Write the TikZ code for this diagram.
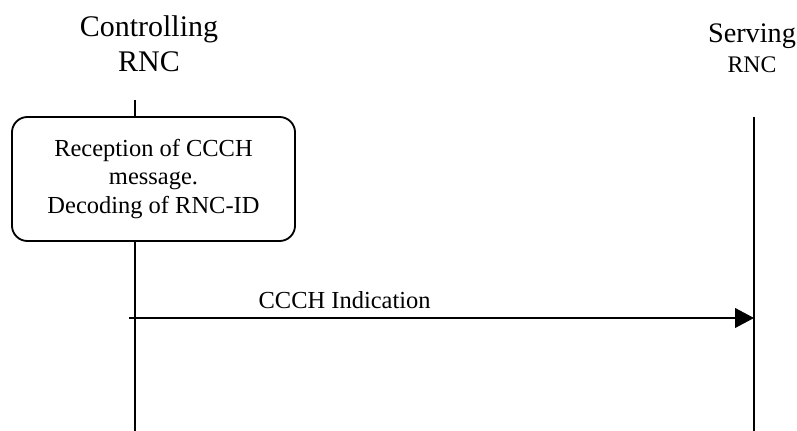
\documentclass[tikz,border=0pt]{standalone}
\usepackage{fontspec}
\setmainfont{Liberation Serif}
\usetikzlibrary{positioning,arrows.meta,calc}

\begin{document}
\begin{tikzpicture}[x=0.025cm, y=-0.025cm,
    line/.style={line width=1.3pt},
    entity/.style={align=center, inner sep=0pt},
    procbox/.style={draw, line width=1.3pt, rounded corners=11pt, minimum width=7.075cm, minimum height=3.1cm, align=center, font=\fontsize{17.4}{20.6}\selectfont},
    msglabel/.style={font=\fontsize{17.4}{20.6}\selectfont, inner sep=0pt}]
    \useasboundingbox (0,0) rectangle (797,431);

    \node (ctrl) [entity, anchor=base, font=\fontsize{21.3}{24.9}\selectfont] at (149,72) {Controlling\\RNC};
    \node (serv) [entity, anchor=base] at (752,73) {\fontsize{20.1}{21.3}\selectfont Serving\\[5pt]\fontsize{16.9}{21.3}\selectfont RNC};
    \node (box) [procbox] at (153.5,179) {Reception of CCCH\\message.\\Decoding of RNC-ID};

    \coordinate (ctrltop) at (135,100);
    \coordinate (ctrlbot) at (135,431);
    \coordinate (servtop) at (754,117);
    \coordinate (servbot) at (754,431);
    \coordinate (msgstart) at (129,318);

    \draw[line] (ctrltop) -- (ctrltop |- box.north);
    \draw[line] (ctrlbot |- box.south) -- (ctrlbot);
    \draw[line] (servtop) -- (servbot);
    \draw[line, -{Triangle[length=13.5pt, width=14pt]}] (msgstart) -- (msgstart -| servtop)
        node[msglabel, pos=0.345, anchor=base, yshift=7pt] (ind) {CCCH Indication};
\end{tikzpicture}
\end{document}
